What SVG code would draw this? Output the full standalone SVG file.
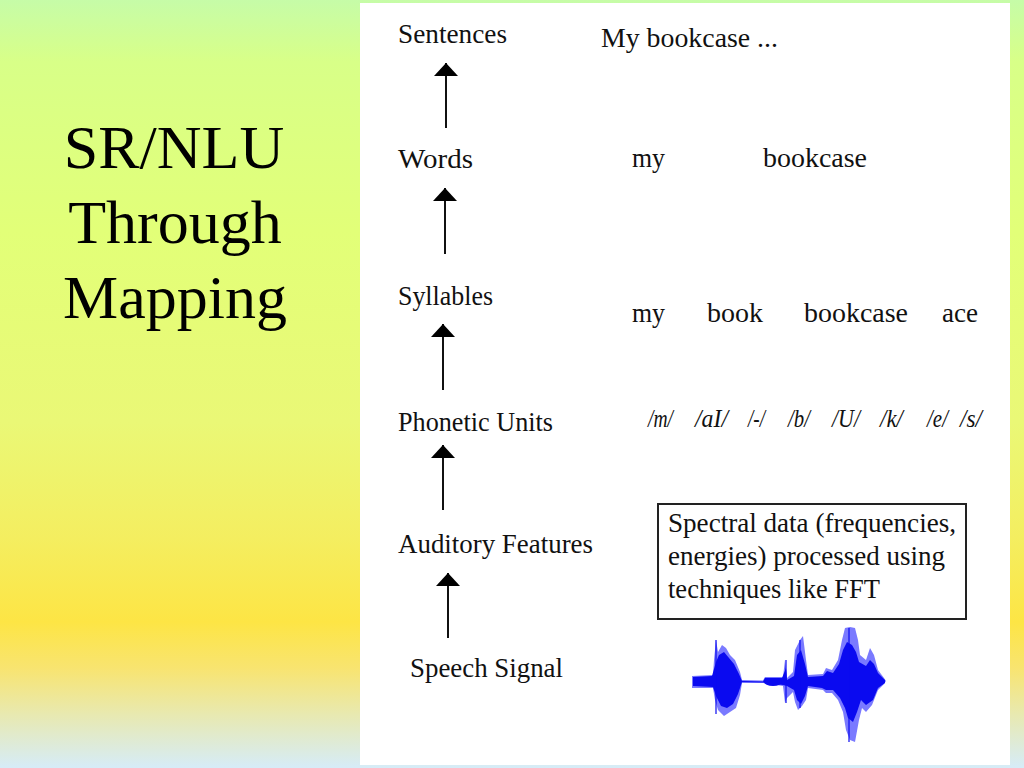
<svg xmlns="http://www.w3.org/2000/svg" width="1024" height="768" viewBox="0 0 1024 768">
  <defs>
    <linearGradient id="bg" x1="0" y1="0" x2="0" y2="1">
      <stop offset="0" stop-color="#c6fca8"/>
      <stop offset="0.08" stop-color="#d8ff88"/>
      <stop offset="0.3" stop-color="#e2ff78"/>
      <stop offset="0.55" stop-color="#eaf876"/>
      <stop offset="0.7" stop-color="#f4ee60"/>
      <stop offset="0.81" stop-color="#fde545"/>
      <stop offset="0.87" stop-color="#f8e470"/>
      <stop offset="0.93" stop-color="#e8e9b0"/>
      <stop offset="1" stop-color="#d6ecf8"/>
    </linearGradient>
    <marker id="head" viewBox="0 0 13 24" refX="13" refY="12" markerWidth="13" markerHeight="24" markerUnits="userSpaceOnUse" orient="auto">
      <polygon points="0,0 13,12 0,24" fill="#000"/>
    </marker>
  </defs>
  <style>
    .title { font-family: "Liberation Serif", "Times New Roman", serif; font-size: 62px; fill: #000; text-anchor: middle; }
    .lbl { font-family: "Liberation Serif", "Times New Roman", serif; font-size: 26.5px; fill: #111; }
    .ph { font-family: "Liberation Serif", "Times New Roman", serif; font-size: 25px; font-style: italic; fill: #111; }
    .conn line { stroke: #111; stroke-width: 2; }
  </style>

  <rect x="0" y="0" width="1024" height="768" fill="url(#bg)"/>

  <g id="title">
    <text class="title" x="174" y="168">SR/NLU</text>
    <text class="title" x="175" y="243">Through</text>
    <text class="title" x="175" y="318">Mapping</text>
  </g>

  <rect id="panel" x="360" y="3" width="650" height="762" fill="#fff"/>

  <g id="sentences">
    <text class="lbl" x="398" y="43" textLength="109" lengthAdjust="spacingAndGlyphs">Sentences</text>
    <text class="lbl" x="601" y="47" textLength="177" lengthAdjust="spacingAndGlyphs">My bookcase ...</text>
  </g>

  <g id="words">
    <text class="lbl" x="398" y="168" textLength="75" lengthAdjust="spacingAndGlyphs">Words</text>
    <text class="lbl" x="632" y="167" textLength="33" lengthAdjust="spacingAndGlyphs">my</text>
    <text class="lbl" x="763" y="167" textLength="104" lengthAdjust="spacingAndGlyphs">bookcase</text>
  </g>

  <g id="syllables">
    <text class="lbl" x="398" y="305" textLength="95" lengthAdjust="spacingAndGlyphs">Syllables</text>
    <text class="lbl" x="632" y="322" textLength="33" lengthAdjust="spacingAndGlyphs">my</text>
    <text class="lbl" x="707" y="322" textLength="56" lengthAdjust="spacingAndGlyphs">book</text>
    <text class="lbl" x="804" y="322" textLength="104" lengthAdjust="spacingAndGlyphs">bookcase</text>
    <text class="lbl" x="942" y="322" textLength="36" lengthAdjust="spacingAndGlyphs">ace</text>
  </g>

  <g id="phonetic">
    <text class="lbl" x="398" y="431" textLength="155" lengthAdjust="spacingAndGlyphs">Phonetic Units</text>
    <text class="ph" x="648" y="427" textLength="25" lengthAdjust="spacingAndGlyphs">/m/</text>
    <text class="ph" x="695" y="427" textLength="33" lengthAdjust="spacingAndGlyphs">/aI/</text>
    <text class="ph" x="748" y="427" textLength="17" lengthAdjust="spacingAndGlyphs">/-/</text>
    <text class="ph" x="788" y="427" textLength="22" lengthAdjust="spacingAndGlyphs">/b/</text>
    <text class="ph" x="832" y="427" textLength="28" lengthAdjust="spacingAndGlyphs">/U/</text>
    <text class="ph" x="880" y="427" textLength="23" lengthAdjust="spacingAndGlyphs">/k/</text>
    <text class="ph" x="927" y="427" textLength="21" lengthAdjust="spacingAndGlyphs">/e/</text>
    <text class="ph" x="960" y="427" textLength="22" lengthAdjust="spacingAndGlyphs">/s/</text>
  </g>

  <g id="auditory">
    <text class="lbl" x="398" y="553" textLength="195" lengthAdjust="spacingAndGlyphs">Auditory Features</text>
    <rect x="658" y="504" width="308" height="115" fill="none" stroke="#222" stroke-width="2"/>
    <text class="lbl" x="668" y="532" textLength="288" lengthAdjust="spacingAndGlyphs">Spectral data (frequencies,</text>
    <text class="lbl" x="668" y="565" textLength="277" lengthAdjust="spacingAndGlyphs">energies) processed using</text>
    <text class="lbl" x="668" y="598" textLength="212" lengthAdjust="spacingAndGlyphs">techniques like FFT</text>
  </g>

  <g id="speech">
    <text class="lbl" x="410" y="677" textLength="153" lengthAdjust="spacingAndGlyphs">Speech Signal</text>
    <g id="waveform">
      <polygon fill="#7a7aff" points="692,676 713,675 714,660 716,640 718,652 722,645 726,648 730,655 735,660 740,672 742,680 763,680.5 765,677 783,677 785,660 787,678 793,672 795,650 800,640 803,636 806,660 808,675 823,674 826,668 832,670 838,660 842,640 845,628 850,627 855,628 858,640 860,655 866,660 870,648 874,655 878,670 884,678 886,681 884,684 878,690 872,705 866,712 862,708 859,720 855,742 850,740 846,730 843,712 838,700 832,693 826,693 823,690 808,688 806,700 802,706 798,710 795,702 793,692 787,698 785,703 783,686 763,683 742,683 740,695 736,708 730,712 724,716 718,710 715,700 713,688 692,688"/>
      <polygon fill="#0a0af0" points="693,677 712,676 716,662 719,655 724,652 729,658 734,664 739,674 742,681 763,681.5 765,678 782,678 786,668 787,680 794,676 797,655 801,650 805,664 808,677 823,676 827,671 833,673 839,664 843,650 847,642 852,645 856,652 859,662 866,666 870,660 874,664 878,673 885,680 885,683 878,688 873,700 866,705 861,700 857,712 853,722 848,718 845,708 840,698 833,690 826,690 822,688 808,686 805,696 801,704 797,700 794,690 787,686 783,685 763,682.5 742,682 738,694 733,704 727,708 721,706 716,696 713,687 693,686"/>
      <ellipse cx="773" cy="682" rx="9" ry="4" fill="#0a0af0"/>
      <g stroke="#0a0af0" stroke-width="1.2">
        <line x1="786" y1="660" x2="786" y2="703"/>
        <line x1="849" y1="628" x2="849" y2="742"/>
        <line x1="716" y1="640" x2="716" y2="714"/>
        <line x1="800" y1="640" x2="800" y2="708"/>
      </g>
    </g>
  </g>

  <g id="connectors" class="conn">
    <line x1="446" y1="128" x2="446" y2="63" marker-end="url(#head)"/>
    <line x1="445" y1="254" x2="445" y2="188" marker-end="url(#head)"/>
    <line x1="443" y1="390" x2="443" y2="324" marker-end="url(#head)"/>
    <line x1="443" y1="510" x2="443" y2="445" marker-end="url(#head)"/>
    <line x1="448" y1="638" x2="448" y2="573" marker-end="url(#head)"/>
  </g>
</svg>
